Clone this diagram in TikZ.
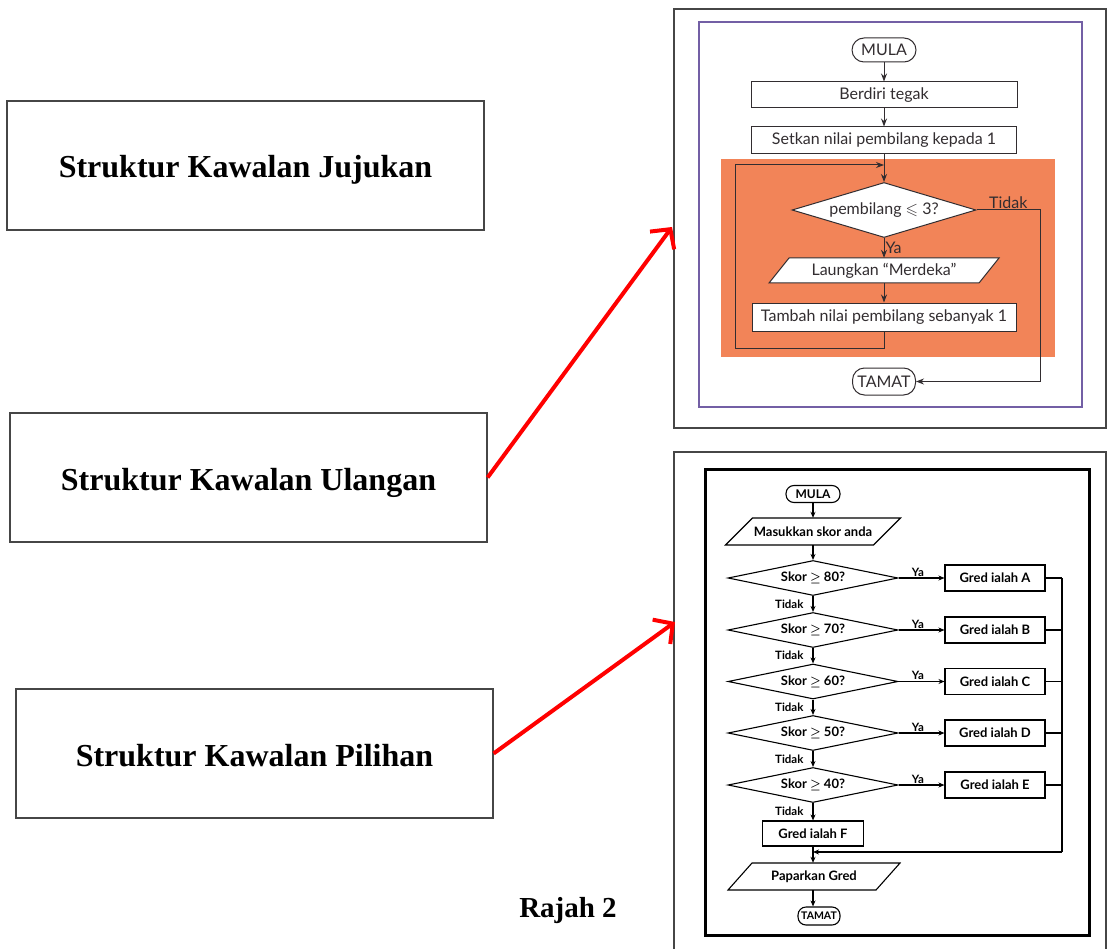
\documentclass[tikz,border=0pt]{standalone}
\usepackage{amssymb}
\usepackage{fontspec}
\setmainfont{Liberation Serif}
\newfontfamily\topfont{Lato}
\newfontfamily\botfont{Lato}
\usetikzlibrary{arrows.meta,shapes.geometric}
\definecolor{ink}{RGB}{50,45,48}
\definecolor{orng}{RGB}{242,132,88}
\definecolor{purp}{RGB}{115,95,165}
\definecolor{fgray}{RGB}{70,70,70}
\tikzset{
 lbox/.style={draw=fgray, line width=1.2pt, minimum width=477pt, minimum height=129pt, inner sep=0pt, text height=25pt, text depth=0pt, font=\bfseries\fontsize{32}{36}\selectfont},
 redarrow/.style={draw=red, line width=4pt, -{Straight Barb[length=14pt,width=30pt]}},
 tnode/.style={draw=ink, line width=1pt, fill=white, inner sep=0pt, text=ink, font=\topfont\fontsize{16}{18}\selectfont},
 tterm/.style={tnode, rounded corners=12pt},
 tline/.style={draw=ink, line width=1pt},
 tarrow/.style={tline, -{Stealth[length=8pt,width=6pt]}},
 ttext/.style={text=ink, font=\topfont\fontsize{16}{18}\selectfont, inner sep=1pt},
 bnode/.style={draw=black, line width=1.1pt, fill=white, inner sep=0pt, font=\botfont\bfseries\fontsize{13}{15}\selectfont},
 bterm/.style={bnode, rounded corners=8pt},
 bdia/.style={bnode, shape=diamond, aspect=5, minimum width=170pt, minimum height=35pt},
 bgrade/.style={bnode, minimum width=100pt, minimum height=26pt},
 bline/.style={draw=black, line width=1.1pt},
 barrow/.style={bline, -{Stealth[length=6pt,width=5pt]}},
 blabel/.style={font=\botfont\bfseries\fontsize{11.5}{13}\selectfont, inner sep=1pt},
 bptext/.style={font=\botfont\bfseries\fontsize{13}{15}\selectfont, inner sep=1pt},
}
\begin{document}
\begin{tikzpicture}[x=1pt,y=-1pt]
\useasboundingbox (0,0) rectangle (1107,949);
\fill[white] (0,0) rectangle (1107,949);

% ---------- left boxes ----------
\node[lbox] (jujukan) at (245.5,165.5) {Struktur Kawalan Jujukan};
\node[lbox] (ulangan) at (248.5,477.5) {Struktur Kawalan Ulangan};
\node[lbox] (pilihan) at (254.5,753.5) {Struktur Kawalan Pilihan};
\node[font=\bfseries\fontsize{29}{32}\selectfont] (rajah) at (568,911) {Rajah 2};

% ---------- frames ----------
\draw[fgray, line width=1.3pt] (674,9) rectangle (1106,428);
\draw[fgray, line width=1.3pt] (674,949) -- (674,452) -- (1106,452) -- (1106,949);
\coordinate (tip1) at (672,227);
\coordinate (tip2) at (675,622);
\draw[redarrow] (ulangan.east) -- (tip1);
\draw[redarrow] (pilihan.east) -- (tip2);

% ---------- top flowchart ----------
\draw[purp, line width=2pt] (699,22) rectangle (1082,407);
\fill[orng] (721,159) rectangle (1055,357);

\node[tterm, minimum width=64pt, minimum height=24pt] (mula1) at (884,50) {MULA};
\node[tnode, minimum width=266pt, minimum height=26pt] (berdiri) at (884,95) {Berdiri tegak};
\node[tnode, minimum width=265pt, minimum height=27pt] (setkan) at (884,140.5) {Setkan nilai pembilang kepada 1};
\node[tnode, shape=diamond, aspect=3.3, minimum width=184pt, minimum height=55pt] (dia1) at (884,210) {pembilang $\leqslant$ 3?};
\draw[tline, fill=white] (769,283) -- (789,258) -- (999,258) -- (979,283) -- cycle;
\node[ttext, minimum width=190pt, minimum height=25pt] (laung) at (884,270.5) {Laungkan \textquotedblleft Merdeka\textquotedblright};
\node[tnode, minimum width=264pt, minimum height=28pt] (tambah) at (884,317) {Tambah nilai pembilang sebanyak 1};
\node[tterm, minimum width=63pt, minimum height=27pt] (tamat1) at (884,381.5) {TAMAT};
\coordinate (loopin) at (884,165);

\draw[tarrow] (mula1) -- (berdiri);
\draw[tarrow] (berdiri) -- (setkan);
\draw[tarrow] (setkan) -- (dia1);
\draw[tarrow] (dia1) -- node[ttext, right]{Ya} (laung);
\draw[tarrow] (laung) -- (tambah);
\draw[tarrow] (tambah.south) -- ++(0,17) -| (735,165) -- (loopin);
\draw[tarrow] (dia1.east) -- node[ttext, above, pos=0.5]{Tidak} (1040,210) |- (tamat1.east);

% ---------- bottom flowchart ----------
\draw[black, line width=3pt] (705,469) rectangle (1089,935);

\node[bterm, minimum width=54pt, minimum height=17pt, font=\botfont\bfseries\fontsize{12}{14}\selectfont] (mula2) at (813,494) {MULA};
\draw[bline, fill=white] (725.5,545) -- (752.5,518) -- (900.5,518) -- (873.5,545) -- cycle;
\node[bptext, minimum width=140pt, minimum height=27pt] (masuk) at (813,531.5) {Masukkan skor anda};

\node[bdia] (d1) at (813,578) {Skor {\boldmath$\geq$} 80?};
\node[bdia] (d2) at (813,630) {Skor {\boldmath$\geq$} 70?};
\node[bdia] (d3) at (813,681.5) {Skor {\boldmath$\geq$} 60?};
\node[bdia] (d4) at (813,733) {Skor {\boldmath$\geq$} 50?};
\node[bdia] (d5) at (813,785) {Skor {\boldmath$\geq$} 40?};

\node[bgrade] (gA) at (995,578) {Gred ialah A};
\node[bgrade] (gB) at (995,630) {Gred ialah B};
\node[bgrade] (gC) at (995,681.5) {Gred ialah C};
\node[bgrade] (gD) at (995,733) {Gred ialah D};
\node[bgrade] (gE) at (995,785) {Gred ialah E};
\node[bgrade, minimum width=101pt, minimum height=25pt] (gF) at (813,833.5) {Gred ialah F};

\draw[bline, fill=white] (728,890) -- (752,863) -- (900,863) -- (876,890) -- cycle;
\node[bptext, minimum width=140pt, minimum height=27pt] (papar) at (814,876.5) {Paparkan Gred};
\node[bterm, minimum width=42pt, minimum height=18pt, font=\botfont\bfseries\fontsize{10.5}{12}\selectfont] (tamat2) at (819,916) {TAMAT};

\coordinate (rc) at (1062,852);
\coordinate (mj) at (813,852);
\coordinate (pb) at (813,890);

\draw[barrow] (mula2) -- (masuk);
\draw[barrow] (masuk) -- (d1);
\draw[barrow] (d1) -- node[blabel, anchor=east, xshift=-8pt]{Tidak} (d2);
\draw[barrow] (d2) -- node[blabel, anchor=east, xshift=-8pt]{Tidak} (d3);
\draw[barrow] (d3) -- node[blabel, anchor=east, xshift=-8pt]{Tidak} (d4);
\draw[barrow] (d4) -- node[blabel, anchor=east, xshift=-8pt]{Tidak} (d5);
\draw[barrow] (d5) -- node[blabel, anchor=east, xshift=-8pt]{Tidak} (gF);
\foreach \d/\g in {d1/gA,d2/gB,d3/gC,d4/gD,d5/gE}{
  \draw[barrow] (\d.east) -- node[blabel, above, pos=0.42]{Ya} (\g.west);
  \draw[bline] (\g.east) -- (\g.east -| rc);
}
\draw[bline] (gA.east -| rc) -- (rc);
\draw[barrow] (rc) -- (mj);
\draw[barrow] (gF) -- (gF.south |- papar.north);
\draw[barrow] (pb) -- (pb |- tamat2.north);
\end{tikzpicture}
\end{document}
